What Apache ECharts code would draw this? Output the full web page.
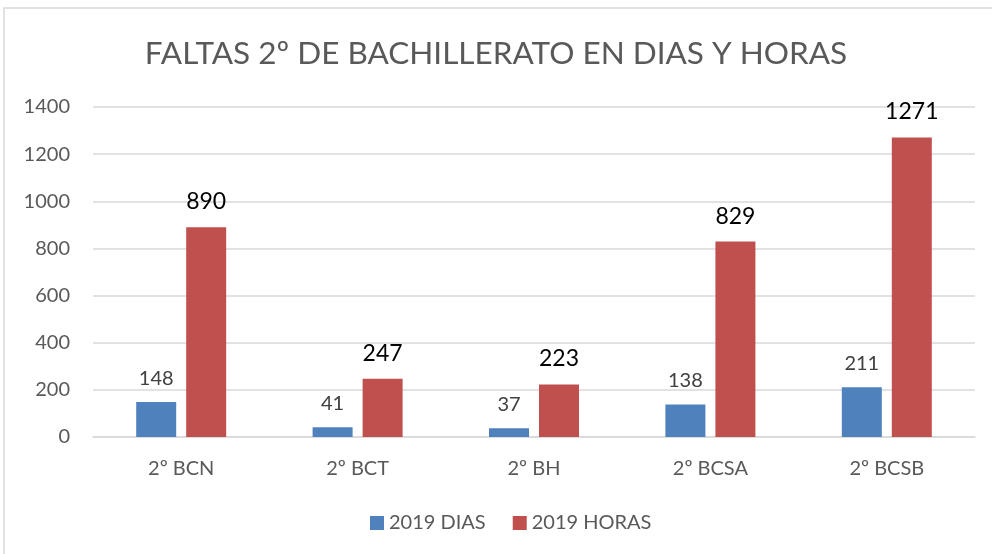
<!DOCTYPE html>
<html>
<head>
<meta charset="utf-8">
<script src="https://cdn.jsdelivr.net/npm/echarts@6/dist/echarts.min.js"></script>
<style>
html,body{margin:0;padding:0;background:#fff;}
#c{width:992px;height:554px;}
</style>
</head>
<body>
<div id="c"></div>
<script>
const titleText = 'FALTAS 2º DE BACHILLERATO EN DIAS Y HORAS';
const categories = ['2º BCN', '2º BCT', '2º BH', '2º BCSA', '2º BCSB'];
const seriesNames = ['2019 DIAS', '2019 HORAS'];
const dias = [148, 41, 37, 138, 211];
const horas = [890, 247, 223, 829, 1271];
const yTicks = [0, 200, 400, 600, 800, 1000, 1200, 1400];

const chart = echarts.init(document.getElementById('c'), null, {renderer: 'canvas'});
const fam = 'Lato, "Open Sans", sans-serif';
chart.setOption({
  animation: false,
  backgroundColor: '#fff',
  graphic: [{
    type: 'rect', silent: true, z: -1,
    shape: {x: 4, y: 8, width: 1200, height: 800},
    style: {fill: 'none', stroke: '#d9d9d9', lineWidth: 1.5}
  }],
  title: {
    text: titleText, left: 'center', top: 33,
    textStyle: {fontFamily: fam, fontSize: 31.5, fontWeight: 'normal', color: '#595959'}
  },
  legend: {
    data: seriesNames, bottom: 16, left: 365,
    itemWidth: 14, itemHeight: 14, itemGap: 27,
    icon: 'rect',
    textStyle: {fontFamily: fam, fontSize: 20, color: '#595959'}
  },
  grid: {left: 93, right: 17, top: 107, bottom: 117, containLabel: false},
  xAxis: {
    type: 'category', data: categories,
    axisLine: {lineStyle: {color: '#d9d9d9', width: 1.5}},
    axisTick: {show: false},
    axisLabel: {fontFamily: fam, fontSize: 20, color: '#595959', margin: 22}
  },
  yAxis: {
    type: 'value', min: yTicks[0], max: yTicks[yTicks.length - 1], interval: 200,
    axisLine: {show: false}, axisTick: {show: false},
    splitLine: {lineStyle: {color: '#d9d9d9', width: 1.5}},
    axisLabel: {fontFamily: fam, fontSize: 20, color: '#595959', margin: 23,
      formatter: function (v) { return String(v); }}
  },
  series: [{
    name: seriesNames[0], type: 'bar', data: dias, barWidth: 40, barGap: '25%',
    itemStyle: {color: '#4F81BD'},
    label: {show: true, position: 'top', distance: 14, fontFamily: fam, fontSize: 20, color: '#404040'}
  }, {
    name: seriesNames[1], type: 'bar', data: horas, barWidth: 40,
    itemStyle: {color: '#C0504D'},
    label: {show: true, position: 'top', distance: 14, fontFamily: fam, fontSize: 23, color: '#000'}
  }]
});
</script>
</body>
</html>
